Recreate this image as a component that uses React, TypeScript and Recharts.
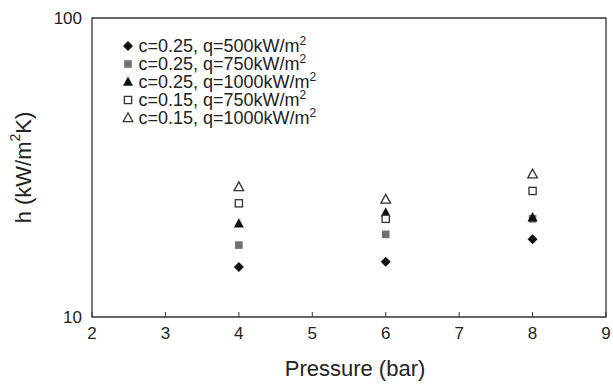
import * as React from 'react';
import {
  ScatterChart,
  Scatter,
  XAxis,
  YAxis,
  ReferenceArea,
} from 'recharts';

// pressure (bar)
const pressures = [4, 6, 8];

// h (kW/m2K) per series
const hC25Q500 = [14.7, 15.3, 18.2];
const hC25Q750 = [17.4, 18.9, 21.3];
const hC25Q1000 = [20.5, 22.3, 21.5];
const hC15Q750 = [24.0, 21.3, 26.4];
const hC15Q1000 = [27.2, 24.7, 30.0];

const xTicks = [2, 3, 4, 5, 6, 7, 8, 9];
const yTicks = [10, 100];

const FONT = '"Liberation Sans", Arial, sans-serif';
const INK = '#222';

type MarkerKind = 'diamond' | 'square' | 'triangle' | 'openSquare' | 'openTriangle';

const drawMarker = (kind: MarkerKind, cx: number, cy: number) => {
  switch (kind) {
    case 'diamond':
      return (
        <polygon
          points={`${cx},${cy - 5} ${cx + 5},${cy} ${cx},${cy + 5} ${cx - 5},${cy}`}
          fill="#111"
        />
      );
    case 'square':
      return <rect x={cx - 3.8} y={cy - 3.8} width={7.6} height={7.6} fill="#707070" />;
    case 'triangle':
      return (
        <polygon
          points={`${cx},${cy - 5.5} ${cx + 5},${cy + 3.8} ${cx - 5},${cy + 3.8}`}
          fill="#111"
        />
      );
    case 'openSquare':
      return (
        <rect
          x={cx - 3.6}
          y={cy - 3.6}
          width={7.2}
          height={7.2}
          fill="#fff"
          stroke="#333"
          strokeWidth={1.3}
        />
      );
    default:
      return (
        <polygon
          points={`${cx},${cy - 5.2} ${cx + 4.8},${cy + 3.6} ${cx - 4.8},${cy + 3.6}`}
          fill="#fff"
          stroke="#333"
          strokeWidth={1.3}
        />
      );
  }
};

const series: { name: string; kind: MarkerKind; values: number[] }[] = [
  { name: 'c=0.25, q=500kW/m', kind: 'diamond', values: hC25Q500 },
  { name: 'c=0.25, q=750kW/m', kind: 'square', values: hC25Q750 },
  { name: 'c=0.25, q=1000kW/m', kind: 'triangle', values: hC25Q1000 },
  { name: 'c=0.15, q=750kW/m', kind: 'openSquare', values: hC15Q750 },
  { name: 'c=0.15, q=1000kW/m', kind: 'openTriangle', values: hC15Q1000 },
];

const XTick = (props: any) => {
  const { x, y, payload } = props;
  return (
    <g>
      <line x1={x} y1={y} x2={x} y2={y - 5} stroke="#333" strokeWidth={1} />
      <text x={x} y={y + 22} textAnchor="middle" fill={INK} fontSize={17} fontFamily={FONT}>
        {payload.value}
      </text>
    </g>
  );
};

const YTick = (props: any) => {
  const { x, y, payload } = props;
  return (
    <text x={x - 10} y={y} dy="0.36em" textAnchor="end" fill={INK} fontSize={17} fontFamily={FONT}>
      {payload.value}
    </text>
  );
};

const YLabel = (props: any) => {
  const { viewBox } = props;
  const cx = viewBox.x - 9;
  const cy = viewBox.y + viewBox.height / 2;
  return (
    <text
      x={cx}
      y={cy}
      dy="0.36em"
      transform={`rotate(-90, ${cx}, ${cy})`}
      textAnchor="middle"
      fill={INK}
      fontSize={22}
      fontFamily={FONT}
    >
      h (kW/m
      <tspan fontSize={14} dy="-0.75em">2</tspan>
      <tspan dy="0.48em">K)</tspan>
    </text>
  );
};

const XLabel = (props: any) => {
  const { viewBox } = props;
  return (
    <text
      x={viewBox.x + viewBox.width / 2 + 6}
      y={viewBox.y + 59}
      textAnchor="middle"
      fill={INK}
      fontSize={22}
      fontFamily={FONT}
    >
      Pressure (bar)
    </text>
  );
};

const LegendBox = () => (
  <div
    style={{
      position: 'absolute',
      left: 122,
      top: 37,
      fontFamily: FONT,
      fontSize: 18,
      color: INK,
      lineHeight: '18px',
      whiteSpace: 'nowrap',
    }}
  >
    {series.map((s) => (
      <div key={s.name} style={{ height: 18, display: 'flex', alignItems: 'center' }}>
        <svg width={12} height={14} style={{ marginRight: 4.5 }}>
          {drawMarker(s.kind, 6, 7)}
        </svg>
        <span>
          {s.name}
          <sup style={{ fontSize: 12, lineHeight: 0, verticalAlign: 7 }}>2</sup>
        </span>
      </div>
    ))}
  </div>
);

const App = () => {
  return (
    <div style={{ position: 'relative', width: 613, height: 385 }}>
      <style>{'body { margin: 0; overflow: hidden; }'}</style>
      <ScatterChart
        width={613}
        height={385}
        margin={{ top: 18, right: 7, bottom: 0, left: 32 }}
      >
        <XAxis
          type="number"
          dataKey="x"
          domain={[2, 9]}
          ticks={xTicks}
          interval={0}
          axisLine={false}
          tickLine={false}
          tickSize={0}
          tickMargin={0}
          height={68}
          tick={<XTick />}
          label={<XLabel />}
        />
        <YAxis
          type="number"
          dataKey="y"
          scale="log"
          domain={[10, 100]}
          ticks={yTicks}
          interval={0}
          allowDataOverflow
          axisLine={false}
          tickLine={false}
          tickSize={0}
          tickMargin={0}
          width={60}
          tick={<YTick />}
          label={<YLabel />}
        />
        <ReferenceArea x1={2} x2={9} y1={10} y2={100} fill="none" stroke="#333" strokeWidth={1.3} />
        {series.map((s) => (
          <Scatter
            key={s.name}
            name={s.name}
            data={pressures.map((p, i) => ({ x: p, y: s.values[i] }))}
            isAnimationActive={false}
            shape={(p: any) => drawMarker(s.kind, p.cx, p.cy)}
          />
        ))}
      </ScatterChart>
      <LegendBox />
    </div>
  );
};

export default App;
